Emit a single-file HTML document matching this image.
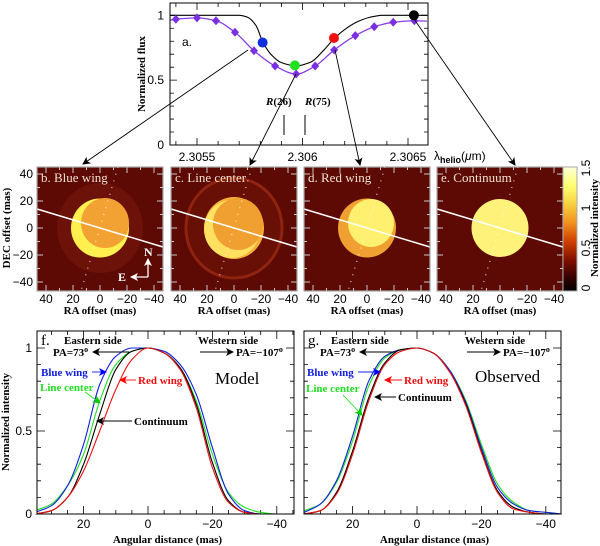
<!DOCTYPE html>
<html><head><meta charset="utf-8">
<style>
html,body{margin:0;padding:0;background:#fff;}
svg{display:block;}
.tk{font-family:"Liberation Sans",sans-serif;font-size:12px;fill:#000;}
.an{font-family:"Liberation Serif",serif;font-weight:bold;font-size:11px;}
.pl{font-family:"Liberation Serif",serif;font-size:13px;fill:#f4e0d0;}
</style></head>
<body>
<svg id="fig" width="600" height="546" viewBox="0 0 600 546" xmlns="http://www.w3.org/2000/svg">
<defs>
<linearGradient id="cbar" x1="0" y1="1" x2="0" y2="0">
<stop offset="0" stop-color="#000"/><stop offset="0.1" stop-color="#300000"/><stop offset="0.25" stop-color="#801000"/>
<stop offset="0.4" stop-color="#d04000"/><stop offset="0.55" stop-color="#f09020"/><stop offset="0.7" stop-color="#f8d040"/>
<stop offset="0.85" stop-color="#ffff70"/><stop offset="1" stop-color="#ffffd8"/>
</linearGradient>
<marker id="ah" markerWidth="8" markerHeight="8" refX="7" refY="4" orient="auto" markerUnits="userSpaceOnUse"><path d="M0,0 L8,4 L0,8 L2,4 Z" fill="#000"/></marker>
<marker id="ahw" markerWidth="8" markerHeight="8" refX="7" refY="4" orient="auto" markerUnits="userSpaceOnUse"><path d="M0,0 L8,4 L0,8 L2,4 Z" fill="#fff"/></marker>
<marker id="ahb" markerWidth="8" markerHeight="8" refX="7" refY="4" orient="auto" markerUnits="userSpaceOnUse"><path d="M0,0 L8,4 L0,8 L2,4 Z" fill="#00f"/></marker>
<marker id="ahg" markerWidth="8" markerHeight="8" refX="7" refY="4" orient="auto" markerUnits="userSpaceOnUse"><path d="M0,0 L8,4 L0,8 L2,4 Z" fill="#0c0"/></marker>
<marker id="ahr" markerWidth="8" markerHeight="8" refX="7" refY="4" orient="auto" markerUnits="userSpaceOnUse"><path d="M0,0 L8,4 L0,8 L2,4 Z" fill="#f00"/></marker>
</defs>
</svg>
<script>
// ---- Top panel data ----
const diamondWl = [2.30540,2.30550,2.30559,2.30568,2.30577,2.30587,2.30597,2.30606,2.30615,2.30625,2.30634,2.30643,2.30653];
const diamondFlux = [0.97,0.98,0.958,0.869,0.727,0.609,0.547,0.609,0.732,0.843,0.912,0.946,0.958];
const purpleEdgeWl = [2.30537,2.30659];
const purpleEdgeFlux = [0.962,0.955];
const modelWl = [2.30537,2.3057,2.30574,2.30578,2.30581,2.30585,2.3059,2.30597,2.30604,2.3061,2.30615,2.3062,2.30626,2.30632,2.30638,2.30659];
const modelFlux = [1,1,0.985,0.92,0.80,0.70,0.635,0.61,0.64,0.73,0.82,0.89,0.95,0.985,1,1];
const markerWl = [2.305811,2.305964,2.306149,2.306528];
const markerFlux = [0.79,0.614,0.825,1.0];
const markerColors = ['#1030e0','#20e020','#f01010','#000'];
const topXTicks = [2.3055,2.306,2.3065];
const topXLabels = ['2.3055','2.306','2.3065'];
const topYTicks = [0,0.5,1];
const topYLabels = ['0','0.5','1'];
// ---- Bottom panel data ----
const angles = [35,30,25,20,15,10,5,0,-5,-10,-15,-20,-25,-30,-35,-40,-45];
const blueF  = [0.01,0.05,0.17,0.42,0.78,0.95,1.0,1.0,0.98,0.9,0.72,0.4,0.12,0.02,0,0,0];
const greenF = [0.02,0.06,0.17,0.36,0.68,0.9,0.98,1,0.97,0.88,0.68,0.36,0.13,0.04,0.01,0,0];
const blackF = [0,0.02,0.1,0.3,0.6,0.87,0.98,1,0.97,0.88,0.66,0.31,0.08,0.01,0,0,0];
const redF   = [0,0.02,0.1,0.26,0.5,0.75,0.93,1.0,0.97,0.87,0.64,0.28,0.07,0.01,0,0,0];
const blueG  = [0.01,0.06,0.2,0.47,0.8,0.95,0.99,1,0.97,0.87,0.68,0.4,0.16,0.06,0.02,0.01,0];
const greenG = [0.02,0.06,0.19,0.44,0.77,0.94,0.99,1,0.97,0.87,0.69,0.42,0.18,0.07,0.02,0.01,0];
const blackG = [0,0.02,0.13,0.38,0.7,0.91,0.99,1,0.97,0.86,0.67,0.38,0.14,0.04,0.01,0,0];
const redG   = [0,0.02,0.12,0.36,0.68,0.9,0.98,1,0.97,0.86,0.66,0.37,0.13,0.03,0.01,0,0];
const botXTicks = [20,0,-20,-40];
const botXLabels = ['20','0','\u221220','\u221240'];
const botYLabels = ['0','0.5','1'];
// ---- Image panels ----
const imgTicks = [40,20,0,-20,-40];
const imgLabels = ['40','20','0','\u221220','\u221240'];
const panelTitles = ['b. Blue wing','c. Line center','d. Red wing','e. Continuum'];
const cbTicks = [0,0.5,1,1.5];
const cbLabels = ['0','0.5','1','1.5'];

const NS='http://www.w3.org/2000/svg';
const svg=document.getElementById('fig');
function mk(tag,attrs,parent){const e=document.createElementNS(NS,tag);for(const k in attrs)e.setAttribute(k,attrs[k]);(parent||svg).appendChild(e);return e;}
function txt(s,attrs,parent){const e=mk('text',attrs,parent);e.textContent=s;return e;}
// monotone cubic (Fritsch-Carlson); pts sorted by x (ascending or descending)
function spline(pts){
 const n=pts.length;const dx=[],dy=[],m=[];
 for(let i=0;i<n-1;i++){dx.push(pts[i+1][0]-pts[i][0]);dy.push(pts[i+1][1]-pts[i][1]);m.push(dy[i]/dx[i]);}
 const t=[m[0]];
 for(let i=1;i<n-1;i++){if(m[i-1]*m[i]<=0)t.push(0);else{const w1=2*dx[i]+dx[i-1],w2=dx[i]+2*dx[i-1];t.push((w1+w2)/(w1/m[i-1]+w2/m[i]));}}
 t.push(m[n-2]);
 let d='M'+pts[0][0].toFixed(2)+','+pts[0][1].toFixed(2);
 for(let i=0;i<n-1;i++){const h=dx[i]/3;
  d+=' C'+(pts[i][0]+h).toFixed(2)+','+(pts[i][1]+t[i]*h).toFixed(2)+' '+(pts[i+1][0]-h).toFixed(2)+','+(pts[i+1][1]-t[i+1]*h).toFixed(2)+' '+pts[i+1][0].toFixed(2)+','+pts[i+1][1].toFixed(2);}
 return d;}

// ===== TOP PANEL =====
const TX0=170,TX1=428,TY0=3,TY1=145;
const tx=w=>197+(w-2.3055)*211000;
const ty=f=>145-f*129.7;
let g=mk('g',{});


for(let w=2.3054;w<=2.30659;w+=0.0001){const x=tx(w);const maj=topXTicks.some(t=>Math.abs(t-w)<1e-6);const L=maj?7:4;
 const t=mk('path',{d:`M${x},${TY1}v${-L}M${x},${TY0}v${L}`,stroke:'#000','stroke-width':0.8},g);
 
 }
for(let f=0;f<=1.0001;f+=0.1){const y=ty(f);const maj=Math.abs(f*2-Math.round(f*2))<1e-6;const L=maj?7:4;
 const t=mk('path',{d:`M${TX0},${y}h${L}M${TX1},${y}h${-L}`,stroke:'#000','stroke-width':0.8},g);
 
 }
topXTicks.forEach((w,i)=>{const t=txt(topXLabels[i],{x:tx(w),y:161,'text-anchor':'middle',class:'tk'},g);
 
 });
topYTicks.forEach((f,i)=>{const t=txt(topYLabels[i],{x:164,y:ty(f)+4,'text-anchor':'end',class:'tk'},g);
 
 });
let e=txt('Normalized flux',{transform:'translate(145,74) rotate(-90)','text-anchor':'middle',class:'an','font-size':'13px'},g);


e=mk('text',{x:434,y:160,class:'tk','font-size':'13px'},g);
e.innerHTML='λ<tspan font-size="9px" dy="3" font-weight="bold">helio</tspan><tspan dy="-3">(<tspan font-style="italic">μ</tspan>m)</tspan>';


e=txt('a.',{x:182,y:46,class:'tk','font-size':'15px'},g);


e=mk('path',{d:spline(modelWl.map((w,i)=>[tx(w),ty(modelFlux[i])])),fill:'none',stroke:'#000','stroke-width':1.1},g);


const ppts=[[tx(purpleEdgeWl[0]),ty(purpleEdgeFlux[0])]].concat(diamondWl.map((w,i)=>[tx(w),ty(diamondFlux[i])])).concat([[tx(purpleEdgeWl[1]),ty(purpleEdgeFlux[1])]]);
e=mk('path',{d:spline(ppts),fill:'none',stroke:'#8a3ce8','stroke-width':1.3},g);


diamondWl.forEach((w,i)=>{const x=tx(w),y=ty(diamondFlux[i]);
 const d=mk('path',{d:`M${x},${y-4.5}L${x+4},${y}L${x},${y+4.5}L${x-4},${y}Z`,fill:'#7a30e0'},g);
 
 });
markerWl.forEach((w,i)=>{const c=mk('circle',{cx:tx(w),cy:ty(markerFlux[i]),r:5,fill:markerColors[i]},g);
 
 });
e=mk('rect',{x:TX0,y:TY0,width:TX1-TX0,height:TY1-TY0,fill:'none',stroke:'#000','stroke-width':1},g);


e=mk('text',{x:266,y:105,class:'an','font-size':'11px'},g);e.innerHTML='<tspan font-style="italic">R</tspan>(26)';


e=mk('text',{x:305,y:105,class:'an','font-size':'11px'},g);e.innerHTML='<tspan font-style="italic">R</tspan>(75)';


e=mk('path',{d:'M284,115V135M305,115V135',stroke:'#000','stroke-width':1},g);



// ===== IMAGE PANELS =====
const PX=[37,171,304,437],PY0=167,PY1=291,PW=126;
const s=1.35;
const imgG=mk('g',{});


PX.forEach((x0,k)=>{
 const pg=mk('g',{},imgG);
 
 
 const cx=x0+PW/2, cy=228;
 const mx=m=>cx-m*s, my=m=>cy-m*s;
 mk('rect',{x:x0,y:PY0,width:PW,height:PY1-PY0,fill:'#5c0a03'},pg);
 if(k===0){mk('ellipse',{cx:cx,cy:cy,rx:43,ry:45,fill:'#6c1208'},pg);
  mk('ellipse',{cx:cx,cy:cy,rx:29,ry:29.5,fill:'#fff050'},pg);
  mk('ellipse',{cx:cx+5,cy:cy-5,rx:24,ry:25,fill:'#f2a232'},pg);}
 if(k===1){mk('ellipse',{cx:cx,cy:cy,rx:48,ry:50,fill:'#681006',stroke:'#8e2410','stroke-width':3},pg);
  mk('ellipse',{cx:cx,cy:cy,rx:30,ry:31,fill:'#f6b038'},pg);
  mk('ellipse',{cx:cx-2,cy:cy+1,rx:28,ry:29,fill:'#ffe060'},pg);
  mk('ellipse',{cx:cx+4,cy:cy-4,rx:25,ry:26,fill:'#f0a030'},pg);}
 if(k===2){mk('ellipse',{cx:cx,cy:cy,rx:29,ry:29.5,fill:'#f0a030'},pg);
  mk('ellipse',{cx:cx+4,cy:cy-5,rx:23,ry:24,fill:'#fff070'},pg);}
 if(k===3){mk('ellipse',{cx:cx,cy:cy,rx:28.5,ry:29,fill:'#fff27a'},pg);}
 let l=mk('line',{x1:x0,y1:cy-19,x2:x0+PW,y2:cy+19,stroke:'#fff','stroke-width':1.5},pg);
 
 
 l=mk('line',{x1:cx+18,y1:PY0,x2:cx-19,y2:PY1,stroke:'#fff','stroke-width':1.2,'stroke-dasharray':'1 6',opacity:0.8},pg);
 
 
 for(let m=-40;m<=40;m+=10){const maj=m%20===0,L=maj?6:3;
  const t=mk('path',{d:`M${mx(m)},${PY1}v${-L}M${mx(m)},${PY0}v${L}M${x0},${my(m)}h${L}M${x0+PW},${my(m)}h${-L}`,stroke:'#c8c8c8','stroke-width':1},pg);
  
  }
 mk('rect',{x:x0,y:PY0,width:PW,height:PY1-PY0,fill:'none',stroke:'#aaa','stroke-width':1.2},pg);
 imgTicks.forEach((m,i)=>{const t=txt(imgLabels[i],{x:mx(m),y:303,'text-anchor':'middle',class:'tk'},pg);
  
  });
 let t=txt('RA offset (mas)',{x:cx,y:314,'text-anchor':'middle',class:'an','font-size':'11px'},pg);
 
 
 t=txt(panelTitles[k],{x:x0+4,y:PY0+15,class:'pl'},pg);
 
 
});
imgTicks.forEach((m,i)=>{const t=txt(imgLabels[i],{x:33,y:228-m*1.35+4,'text-anchor':'end',class:'tk'},imgG);
 
 });
e=txt('DEC offset (mas)',{transform:'translate(10,228) rotate(-90)','text-anchor':'middle',class:'an','font-size':'11px'},imgG);


e=mk('path',{d:'M148,277V259',stroke:'#fff','stroke-width':1.3,fill:'none','marker-end':'url(#ahw)'},imgG);


e=mk('path',{d:'M148,277H131',stroke:'#fff','stroke-width':1.3,'marker-end':'url(#ahw)'},imgG);


e=txt('N',{x:144,y:256,fill:'#fff','font-family':'Liberation Serif,serif','font-weight':'bold','font-size':'12px'},imgG);


e=txt('E',{x:118,y:281,fill:'#fff','font-family':'Liberation Serif,serif','font-weight':'bold','font-size':'12px'},imgG);


e=mk('rect',{x:563,y:PY0,width:14,height:PY1-PY0,fill:'url(#cbar)',stroke:'#aaa','stroke-width':1},imgG);


cbTicks.forEach((v,i)=>{const y=PY1-v/1.55*(PY1-PY0)-3;
 const t=txt(cbLabels[i],{transform:`translate(590,${y}) rotate(-90)`,'text-anchor':'middle',class:'tk','font-size':'11px'},imgG);
 
 });
e=txt('Normalized intensity',{transform:'translate(598,228) rotate(-90)','text-anchor':'middle',class:'an','font-size':'11px'},imgG);



const arrows=[[248,50,83,164],[296,74,250,165],[335,50,360,165],[414,19,515,165]];
arrows.forEach(a=>{const l=mk('line',{x1:a[0],y1:a[1],x2:a[2],y2:a[3],stroke:'#000','stroke-width':0.9,'marker-end':'url(#ah)'});
 
 });

// ===== BOTTOM PANELS =====
const BY0=331,BY1=514,BYone=348;
const by=v=>BY1-v*(BY1-BYone);
function profilePanel(x0,x1,zero,series,letter,title,showY,ann){
 const pg=mk('g',{});
 
 
 const bx=m=>zero-m*3.22;
 for(let m=30;m>=-45;m-=5){const x=bx(m);if(x<x0||x>x1)continue;const maj=m%20===0,L=maj?8:4;
  const t=mk('path',{d:`M${x},${BY1}v${-L}M${x},${BY0}v${L}`,stroke:'#000','stroke-width':0.8},pg);
  
  }
 for(let v=0;v<=1.001;v+=0.1){const y=by(v);const maj=Math.abs(v*2-Math.round(v*2))<1e-6,L=maj?8:4;
  const t=mk('path',{d:`M${x0},${y}h${L}M${x1},${y}h${-L}`,stroke:'#000','stroke-width':0.8},pg);
  
  }
 series.forEach(sr=>{const p=mk('path',{d:spline(angles.map((m,i)=>[bx(m),by(sr[0][i])])),fill:'none',stroke:sr[1],'stroke-width':1.1},pg);
  
  });
 mk('rect',{x:x0-3,y:BY0,width:3,height:BY1-BY0,fill:'#fff'},pg);
 mk('rect',{x:x1,y:BY0,width:4,height:BY1-BY0,fill:'#fff'},pg);
 let t=mk('rect',{x:x0,y:BY0,width:x1-x0,height:BY1-BY0,fill:'none',stroke:'#000','stroke-width':1},pg);
 
 
 botXTicks.forEach((m,i)=>{const tt=txt(botXLabels[i],{x:bx(m),y:528,'text-anchor':'middle',class:'tk','font-size':'13px'},pg);
  
  });
 t=txt('Angular distance (mas)',{x:(x0+x1)/2+2,y:543,'text-anchor':'middle',class:'an','font-size':'13px'},pg);
 
 
 if(showY){[0,0.5,1].forEach((v,i)=>{const tt=txt(botYLabels[i],{x:32,y:by(v)+4,'text-anchor':'end',class:'tk','font-size':'13px'},pg);
   
   });
  t=txt('Normalized intensity',{transform:'translate(9,422) rotate(-90)','text-anchor':'middle',class:'an','font-size':'12px'},pg);
  
  }
 t=txt(letter+'.',{x:x0+4,y:BY0+14,'font-family':'Liberation Serif,serif','font-size':'15px'},pg);
 
 
 t=txt(title,{x:ann.title[0],y:ann.title[1],'font-family':'Liberation Serif,serif','font-size':'17px'},pg);
 
 
 const o=x0;
 t=txt('Eastern side',{x:o+27,y:344,class:'an'},pg);
 
 
 t=mk('text',{x:o+16,y:356,class:'an'},pg);t.innerHTML='PA=73<tspan font-size="8px" dy="-4">o</tspan>';
 
 
 t=mk('line',{x1:o+92,y1:352,x2:o+56,y2:352,stroke:'#000','stroke-width':1,'marker-end':'url(#ah)'},pg);
 
 
 t=txt('Western side',{x:o+161,y:344,class:'an'},pg);
 
 
 t=mk('line',{x1:o+163,y1:352,x2:o+196,y2:352,stroke:'#000','stroke-width':1,'marker-end':'url(#ah)'},pg);
 
 
 t=mk('text',{x:o+199,y:356,class:'an'},pg);t.innerHTML='PA=\u2212107<tspan font-size="8px" dy="-4">o</tspan>';
 
 
 ann.labels.forEach(L=>{const tt=txt(L[0],{x:L[1],y:L[2],class:'an',fill:L[3]},pg);
  
  
  const ar=mk('line',{x1:L[4],y1:L[5],x2:L[6],y2:L[7],stroke:L[3],'stroke-width':0.9,'marker-end':L[8]},pg);
  
  });
}
profilePanel(37,294,148,[[greenF,'#20e020','line-center-profile'],[blueF,'#1020e0','blue-wing-profile'],[blackF,'#000','continuum-profile'],[redF,'#f01010','red-wing-profile']],'f','Model',true,
 {title:[215,384],labels:[
  ['Blue wing',41,376,'#1020e0',92,372,106,372,'url(#ahb)'],
  ['Line center',40,391,'#20e020',85,392,100,403,'url(#ahg)'],
  ['Red wing',138,384,'#f01010',136,380,120,380,'url(#ahr)'],
  ['Continuum',134,425,'#000',132,421,97,421,'url(#ah)']]});
profilePanel(304,561,417,[[greenG,'#20e020','line-center-profile'],[blueG,'#1020e0','blue-wing-profile'],[blackG,'#000','continuum-profile'],[redG,'#f01010','red-wing-profile']],'g','Observed',false,
 {title:[475,382],labels:[
  ['Blue wing',307,376,'#1020e0',358,372,380,372,'url(#ahb)'],
  ['Line center',306,392,'#20e020',343,395,362,415,'url(#ahg)'],
  ['Red wing',404,384,'#f01010',402,380,385,380,'url(#ahr)'],
  ['Continuum',398,401,'#000',396,397,375,397,'url(#ah)']]});
</script>
</body></html>
